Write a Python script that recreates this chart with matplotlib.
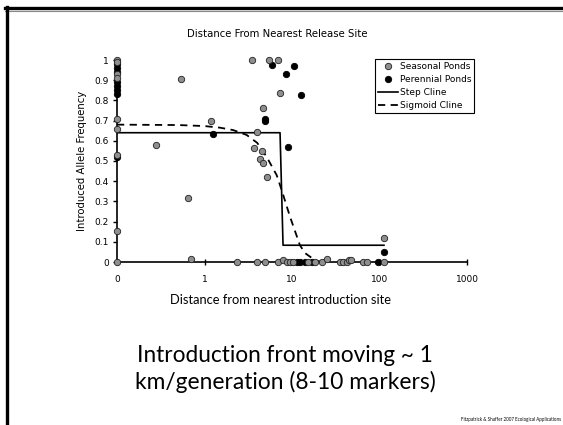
import matplotlib
matplotlib.use("Agg")
import matplotlib.pyplot as plt
from matplotlib.lines import Line2D

# ---------------- data ----------------
seasonal_x = [0.1, 0.1, 0.1, 0.1, 0.1, 0.1, 0.1, 0.1, 0.1,
              0.535, 1.18, 0.281, 0.643, 0.70, 3.46, 5.46, 6.98, 7.29,
              4.63, 4.0, 3.71, 4.51, 4.3, 4.7, 5.22, 112.5,
              2.33, 4.0, 4.9, 6.98, 7.9, 8.7, 9.5, 10.3, 15.4, 18.3, 21.9,
              24.9, 35.4, 38.6, 42.2, 44.8, 46.9, 65.3, 71.3, 112.5]
seasonal_y = [1.0, 0.99, 0.93, 0.91, 0.71, 0.66, 0.53, 0.155, 0.0,
              0.906, 0.70, 0.579, 0.315, 0.013, 1.0, 1.0, 1.0, 0.835,
              0.764, 0.642, 0.563, 0.551, 0.508, 0.489, 0.422, 0.119,
              0.0, 0.0, 0.0, 0.0, 0.01, 0.0, 0.0, 0.0, 0.0, 0.0, 0.0,
              0.013, 0.0, 0.0, 0.0, 0.01, 0.01, 0.0, 0.0, 0.0]

perennial_x = [0.1, 0.1, 0.1, 0.1, 0.1, 0.1, 0.1, 0.1,
               1.24, 5.86, 10.6, 8.47, 12.6, 4.91, 4.91, 8.93, 112.5,
               11.4, 12.3, 14.1, 16.8, 96.0]
perennial_y = [0.98, 0.96, 0.94, 0.89, 0.87, 0.85, 0.83, 0.52,
               0.634, 0.975, 0.97, 0.929, 0.827, 0.71, 0.698, 0.568, 0.048,
               0.0, 0.0, 0.0, 0.0, 0.0]

step_x = [0.1, 7.3, 7.9, 112.5]
step_y = [0.64, 0.64, 0.083, 0.083]

sigmoid_x = [0.1, 0.5, 1.0, 1.5, 2.13, 3.03, 4.0, 5.14, 6.68, 7.62, 9.49,
             12.3, 14.0, 16.1, 19.1, 25.0]
sigmoid_y = [0.68, 0.678, 0.673, 0.665, 0.653, 0.629, 0.59, 0.52, 0.43, 0.356,
             0.224, 0.084, 0.045, 0.026, 0.005, 0.0]

x_ticks = [0.1, 1, 10, 100, 1000]
x_ticklabels = ["0", "1", "10", "100", "1000"]
y_ticks = [0, 0.1, 0.2, 0.3, 0.4, 0.5, 0.6, 0.7, 0.8, 0.9, 1]
y_ticklabels = ["0", "0.1", "0.2", "0.3", "0.4", "0.5", "0.6", "0.7", "0.8", "0.9", "1"]

title = "Distance From Nearest Release Site"
xlabel = "Distance from nearest introduction site"
ylabel = "Introduced Allele Frequency"
line1 = "Introduction front moving ~ 1"
line2 = "km/generation (8-10 markers)"
citation = "Fitzpatrick & Shaffer 2007 Ecological Applications"

# ---------------- figure ----------------
W, H = 563, 425
fig = plt.figure(figsize=(W / 100, H / 100), dpi=100)
fig.patch.set_facecolor("white")

def fx(px):
    return px / W

def fy(py):
    return 1 - py / H

ax = fig.add_axes([fx(117), fy(262), fx(467) - fx(117), fy(60) - fy(262)])
ax.set_xscale("log")
ax.set_xlim(0.1, 1000)
ax.set_ylim(0, 1)

gray = "#8e8e8e"
ax.plot(step_x, step_y, color="black", lw=1.2, zorder=2, label="Step Cline")
ax.plot(sigmoid_x, sigmoid_y, color="black", lw=1.3, ls=(0, (4, 3)), zorder=2,
        label="Sigmoid Cline")
ax.plot(perennial_x, perennial_y, ls="none", marker="o", ms=4.6, mfc="black",
        mec="black", mew=0.6, clip_on=False, zorder=3, label="Perennial Ponds")
ax.plot(seasonal_x, seasonal_y, ls="none", marker="o", ms=4.6, mfc=gray,
        mec="#222222", mew=0.6, clip_on=False, zorder=4, label="Seasonal Ponds")

for s in ["top", "right"]:
    ax.spines[s].set_visible(False)
for s in ["left", "bottom"]:
    ax.spines[s].set_linewidth(1.2)
    ax.spines[s].set_zorder(1)

ax.set_xticks(x_ticks)
ax.set_xticklabels(x_ticklabels)
ax.xaxis.set_minor_locator(matplotlib.ticker.NullLocator())
ax.set_yticks(y_ticks)
ax.set_yticklabels(y_ticklabels)
ax.tick_params(axis="x", direction="inout", length=5, width=1, labelsize=6.5,
               pad=7, colors="black")
ax.tick_params(axis="y", direction="out", length=3, width=1, labelsize=6.5,
               pad=3)
for lab in ax.get_xticklabels() + ax.get_yticklabels():
    lab.set_family("DejaVu Sans")

# legend
handles, labels = ax.get_legend_handles_labels()
order = [3, 2, 0, 1]
leg = ax.legend([handles[i] for i in order], [labels[i] for i in order],
                loc="upper left", bbox_to_anchor=(fx(375), fy(59)),
                bbox_transform=fig.transFigure, borderaxespad=0,
                fancybox=False, edgecolor="black", framealpha=1,
                prop={"family": "DejaVu Sans", "size": 6.5},
                handlelength=2.2, handletextpad=0.3, borderpad=0.3,
                labelspacing=0.45)
leg.get_frame().set_linewidth(0.8)

fig.canvas.draw()
renderer = fig.canvas.get_renderer()

def fit_text(x, y, s, width_px, size0, family, ha="center", va="baseline",
             rotation=0, color="black"):
    t = fig.text(x, y, s, fontsize=size0, family=family, ha=ha, va=va,
                 rotation=rotation, color=color)
    bb = t.get_window_extent(renderer=renderer)
    w = bb.height if rotation == 90 else bb.width
    t.set_fontsize(size0 * width_px / w)
    return t

fit_text(fx(277), fy(34), title, 182, 6.5, "DejaVu Sans", va="center")
fit_text(fx(82), fy(161), ylabel, 143, 6.5, "DejaVu Sans", va="center",
         rotation=90)
fit_text(fx(281), fy(300), xlabel, 222, 8.5, "Lato", va="center")
fit_text(fx(285), fy(362), line1, 296, 15, "Lato")
fit_text(fx(285), fy(389), line2, 300, 15, "Lato")
fit_text(fx(511), fy(421), citation, 99, 5, "Lato")

# slide frame
fig.add_artist(Line2D([fx(5), 1], [fy(8.3), fy(8.3)], transform=fig.transFigure,
                      color="black", lw=2.4))
fig.add_artist(Line2D([fx(5), 1], [fy(10.5), fy(10.5)], transform=fig.transFigure,
                      color="#888888", lw=0.8))
fig.add_artist(Line2D([fx(6.5), fx(6.5)], [fy(7), 0], transform=fig.transFigure,
                      color="black", lw=2.4))

fig.savefig("out.png", dpi=100, facecolor="white")
